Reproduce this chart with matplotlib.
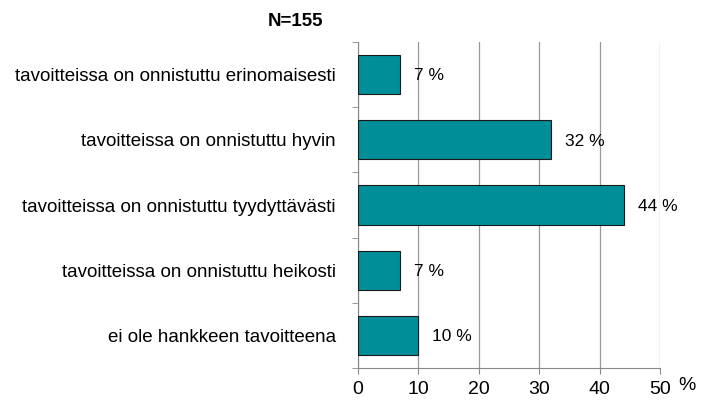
import matplotlib
matplotlib.use("Agg")
import matplotlib.pyplot as plt
import numpy as np

# Vastausvaihtoehdot ylhäältä alas
categories = [
    "tavoitteissa on onnistuttu erinomaisesti",
    "tavoitteissa on onnistuttu hyvin",
    "tavoitteissa on onnistuttu tyydyttävästi",
    "tavoitteissa on onnistuttu heikosti",
    "ei ole hankkeen tavoitteena",
]
values = [7, 32, 44, 7, 10]
x_ticks = [0, 10, 20, 30, 40, 50]
title = "N=155"

plt.rcParams['font.family'] = ['Liberation Sans', 'DejaVu Sans']

fig = plt.figure(figsize=(7.06, 4.0), dpi=100)
ax = fig.add_axes([0.507, 0.08, 0.428, 0.815])

n = len(categories)
y = np.arange(n)[::-1]
ax.barh(y, values, height=0.6, color="#008F99", edgecolor="#1a1a1a", linewidth=0.8, zorder=3)

for yi, v in zip(y, values):
    ax.annotate(f"{v} %", (v, yi), xytext=(10, -1), textcoords="offset points",
                ha="left", va="center", fontsize=12.5, zorder=4)

ax.set_xlim(0, 50)
ax.set_ylim(-0.5, n - 0.5)
ax.set_xticks(x_ticks)
ax.set_xticklabels([str(t) for t in x_ticks], fontsize=14)
ax.tick_params(axis="x", direction="out", length=4, color="#888888", pad=5)

ax.set_yticks(y)
ax.set_yticklabels(categories, fontsize=13.5)
ax.tick_params(axis="y", which="major", length=0, pad=16)
ax.set_yticks(np.arange(n + 1) - 0.5, minor=True)
ax.tick_params(axis="y", which="minor", direction="out", length=4, color="#888888")

ax.grid(axis="x", color="#999999", linewidth=0.9, zorder=0)
for side in ["top", "right"]:
    ax.spines[side].set_visible(False)
for side in ["left", "bottom"]:
    ax.spines[side].set_color("#888888")

fig.text(0.985, 0.037, "%", fontsize=14, ha="right", va="center")
fig.text(0.418, 0.945, title, fontsize=13.5, fontweight="bold", ha="center", va="center")

fig.savefig("out.png", dpi=100)
